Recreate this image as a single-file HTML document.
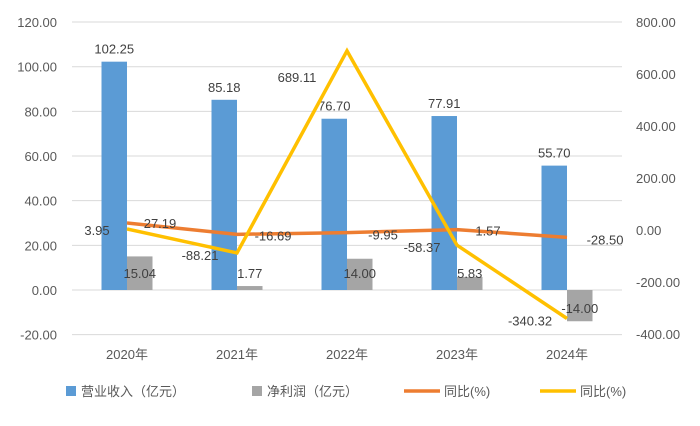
<!DOCTYPE html>
<html><head><meta charset="utf-8"><style>
body{margin:0;background:#fff;font-family:"Liberation Sans","Noto Sans CJK SC",sans-serif;}
svg text{font-family:"Liberation Sans","Noto Sans CJK SC",sans-serif;}
</style></head><body>
<svg id="c" width="700" height="421"></svg>
<script>
const categories=["2020年","2021年","2022年","2023年","2024年"];
const revenue=[102.25,85.18,76.70,77.91,55.70];
const profit=[15.04,1.77,14.00,5.83,-14.00];
const revGrowth=[27.19,-16.69,-9.95,1.57,-28.50];
const profitGrowth=[3.95,-88.21,689.11,-58.37,-340.32];
const leftTicks=[-20,0,20,40,60,80,100,120];
const rightTicks=[-400,-200,0,200,400,600,800];
const NS="http://www.w3.org/2000/svg";
const svg=document.getElementById('c');
const L=72,W=550,step=W/categories.length;
const yL=v=>290-v*2.233;
const yR=v=>230-v*0.26;
const xC=i=>L+step*(i+0.5);
function el(t,a,txt){const e=document.createElementNS(NS,t);for(const k in a)e.setAttribute(k,a[k]);if(txt!==undefined)e.textContent=txt;svg.appendChild(e);return e;}
leftTicks.forEach(v=>{
 const g=el('line',{x1:L,x2:L+W,y1:yL(v),y2:yL(v),stroke:'#d9d9d9','stroke-width':1});
 
 
 const t=el('text',{x:57,y:yL(v)+5,'text-anchor':'end','font-size':13,fill:'#595959'},v.toFixed(2));
 
 
});
rightTicks.forEach(v=>{
 const t=el('text',{x:636,y:yR(v)+5,'font-size':13,fill:'#595959'},v.toFixed(2));
 
 
});
categories.forEach((c,i)=>{
 const t=el('text',{x:xC(i),y:359,'text-anchor':'middle','font-size':13,fill:'#595959'},c);
 
 
 const bw=25.5;
 const r=revenue[i],p=profit[i];
 const b1=el('rect',{x:xC(i)-bw,y:Math.min(yL(r),yL(0)),width:bw,height:Math.abs(yL(r)-yL(0)),fill:'#5b9bd5'});
 
 
 const b2=el('rect',{x:xC(i),y:Math.min(yL(p),yL(0)),width:bw,height:Math.abs(yL(p)-yL(0)),fill:'#a5a5a5'});
 
 
 const l1=el('text',{x:xC(i)-bw/2,y:yL(r)-8,'text-anchor':'middle','font-size':13,fill:'#404040'},r.toFixed(2));
 
 
 const l2=el('text',{x:xC(i)+bw/2,y:p>=0?yL(0)-12:yL(0)+23,'text-anchor':'middle','font-size':13,fill:'#404040'},p.toFixed(2));
 
 
});
function line(vals,color,name){
 const pts=vals.map((v,i)=>xC(i)+','+yR(v)).join(' ');
 const p=el('polyline',{points:pts,fill:'none',stroke:color,'stroke-width':3.5,'stroke-linejoin':'miter'});
 
 
}
line(revGrowth,'#ed7d31','revenue-growth-line');
line(profitGrowth,'#ffc000','profit-growth-line');
const revOff=[[33,5],[36,6],[36,7],[31,6],[38,7]];
const profOff=[[-30,6],[-37,7],[-50,31],[-35,7],[-37,7]];
revGrowth.forEach((v,i)=>{
 const t=el('text',{x:xC(i)+revOff[i][0],y:yR(v)+revOff[i][1],'text-anchor':'middle','font-size':13,fill:'#404040'},v.toFixed(2));
 
 
});
profitGrowth.forEach((v,i)=>{
 const t=el('text',{x:xC(i)+profOff[i][0],y:yR(v)+profOff[i][1],'text-anchor':'middle','font-size':13,fill:'#404040'},v.toFixed(2));
 
 
});
const leg=[['rect','#5b9bd5',66,'营业收入（亿元）','legend-revenue'],['rect','#a5a5a5',252,'净利润（亿元）','legend-profit'],['line','#ed7d31',404,'同比(%)','legend-revenue-growth'],['line','#ffc000',540,'同比(%)','legend-profit-growth']];
leg.forEach(([k,c,x,txt,n])=>{
 let m;
 if(k==='rect') m=el('rect',{x:x,y:386,width:10,height:10,fill:c});
 else m=el('line',{x1:x,x2:x+36,y1:391,y2:391,stroke:c,'stroke-width':3.5});
 
 
 const t=el('text',{x:x+(k==='rect'?15:40),y:396,'font-size':13,fill:'#595959'},txt);
 
 
});
</script>
</body></html>
